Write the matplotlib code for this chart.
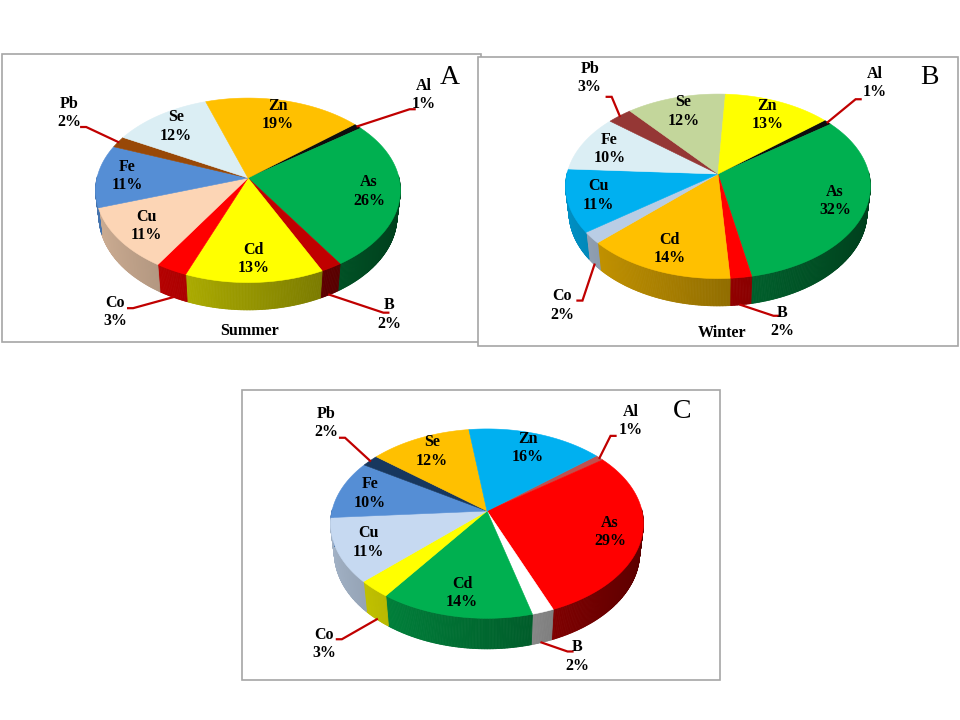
import numpy as np
import matplotlib.pyplot as plt
from matplotlib.collections import PolyCollection
from matplotlib.patches import Polygon, Rectangle
from matplotlib.colors import to_rgb

plt.rcParams['font.family'] = ['Liberation Serif', 'DejaVu Serif']

elements = ['Al', 'As', 'B', 'Cd', 'Co', 'Cu', 'Fe', 'Pb', 'Se', 'Zn']
summer = [1, 26, 2, 13, 3, 11, 11, 2, 12, 19]
winter = [1, 32, 2, 14, 2, 11, 10, 3, 12, 13]
panel_c = [1, 29, 2, 14, 3, 11, 10, 2, 12, 16]

colors_a = ['#0D0D0D', '#00B050', '#C00000', '#FFFF00', '#FF0000',
            '#FCD5B5', '#558ED5', '#984807', '#DBEEF4', '#FFC000']
colors_b = ['#0D0D0D', '#00B050', '#FF0000', '#FFC000', '#B9CDE5',
            '#00B0F0', '#DBEEF4', '#953735', '#C3D69B', '#FFFF00']
colors_c = ['#C0504D', '#FF0000', '#FFFFFF', '#00B050', '#FFFF00',
            '#C6D9F1', '#558ED5', '#17375E', '#FFC000', '#00B0F0']

# small slices labelled outside: elbow offset from slice, text offset from elbow (px)
callouts_a = {'Al': (52, -17, 14, -14), 'Pb': (-32, -15, -17, -14),
              'Co': (-40, 11, -18, 4), 'B': (54, 18, 6, 2)}
callouts_b = {'Al': (28, -23, 19, -16), 'Pb': (-8, -19, -22, -19),
              'Co': (-12, 36, -20, 5), 'B': (33, 11, 9, 6)}
callouts_c = {'Al': (11, -22, 20, -15), 'Pb': (-25, -23, -19, -15),
              'Co': (-35, 20, -18, 5), 'B': (26, 9, 10, 5)}

# pie geometry in figure pixels (view tilt + perspective)
SIN_A, COS_A, DIST = 0.6, 0.8, 6.0
START = 40

panels = [
    dict(values=summer, colors=colors_a, callouts=callouts_a,
         cx=248, cy=178, R=151, h=0.22,
         box=(2, 54, 481, 342), letter='A', lpos=(450, 77),
         title='Summer', tpos=(250, 331)),
    dict(values=winter, colors=colors_b, callouts=callouts_b,
         cx=718, cy=174, R=151, h=0.22,
         box=(478, 57, 958, 346), letter='B', lpos=(929, 77),
         title='Winter', tpos=(722, 333)),
    dict(values=panel_c, colors=colors_c, callouts=callouts_c,
         cx=487, cy=511, R=155, h=0.24,
         box=(242, 390, 720, 680), letter='C', lpos=(682, 411),
         title=None, tpos=None),
]


def proj(t, r, z, p):
    t = np.radians(t)
    X, Y = r * np.cos(t), r * np.sin(t)
    v = Y * SIN_A + z * COS_A
    d = -Y * COS_A + z * SIN_A
    s = DIST / (DIST - d)
    return p['cx'] + p['R'] * X * s, p['cy'] - p['R'] * v * s


def draw_pie(ax, p):
    vals = np.array(p['values'], dtype=float)
    spans = 360 * vals / vals.sum()
    starts = START - np.concatenate([[0], np.cumsum(spans)[:-1]])
    h = p['h']

    # outer side band (front half only), shaded left -> right
    polys, cols = [], []
    for a, sp, c in zip(starts, spans, p['colors']):
        ts = np.linspace(a, a - sp, max(int(sp * 2), 2) + 1)
        for t1, t2 in zip(ts[:-1], ts[1:]):
            tm = np.radians((t1 + t2) / 2)
            if np.sin(tm) < 0.02:
                quad = [proj(t1, 1, 0, p), proj(t2, 1, 0, p),
                        proj(t2, 1, -h, p), proj(t1, 1, -h, p)]
                f = 0.585 - 0.235 * np.cos(tm)
                col = tuple(np.array(to_rgb(c)) * f)
                polys.append(quad)
                cols.append(col)
    ax.add_collection(PolyCollection(polys, facecolors=cols, edgecolors=cols,
                                     linewidths=0.6))

    # top faces
    for a, sp, c in zip(starts, spans, p['colors']):
        ts = np.linspace(a, a - sp, max(int(sp * 2), 2) + 1)
        pts = [proj(0, 0, 0, p)] + [proj(t, 1, 0, p) for t in ts]
        ax.add_patch(Polygon(pts, closed=True, facecolor=c, edgecolor=c, lw=0.4))

    # labels
    for name, v, a, sp in zip(elements, p['values'], starts, spans):
        mid = a - sp / 2
        txt = f'{name}\n{v}%'
        if name not in p['callouts']:
            x, y = proj(mid, 0.8, 0, p)
            ax.text(x, y, txt, ha='center', va='center', fontsize=11.5,
                    fontweight='bold')
            continue
        edx, edy, tdx, tdy = p['callouts'][name]
        back = np.sin(np.radians(mid)) > 0
        x0, y0 = proj(mid, 1.0, 0 if back else -h, p)
        ex, ey = x0 + edx, y0 + edy
        sgn = 1 if edx > 0 else -1
        ax.plot([x0, ex, ex + sgn * 5], [y0, ey, ey], color='#C00000', lw=1.6,
                solid_joinstyle='miter')
        ax.text(ex + tdx, ey + tdy, txt, ha='center', va='center',
                fontsize=11.5, fontweight='bold')


fig = plt.figure(figsize=(9.6, 7.2), dpi=100)
ax = fig.add_axes([0, 0, 1, 1])
ax.set_xlim(0, 960)
ax.set_ylim(720, 0)
ax.axis('off')

for p in panels:
    x0, y0, x1, y1 = p['box']
    ax.add_patch(Rectangle((x0, y0), x1 - x0, y1 - y0, fill=True,
                           facecolor='white', edgecolor='#A6A6A6', lw=1.2))
    draw_pie(ax, p)
    ax.text(*p['lpos'], p['letter'], ha='center', va='center', fontsize=20)
    if p['title']:
        ax.text(*p['tpos'], p['title'], ha='center', va='center', fontsize=11.5,
                fontweight='bold')

fig.savefig('out.png', dpi=100)
